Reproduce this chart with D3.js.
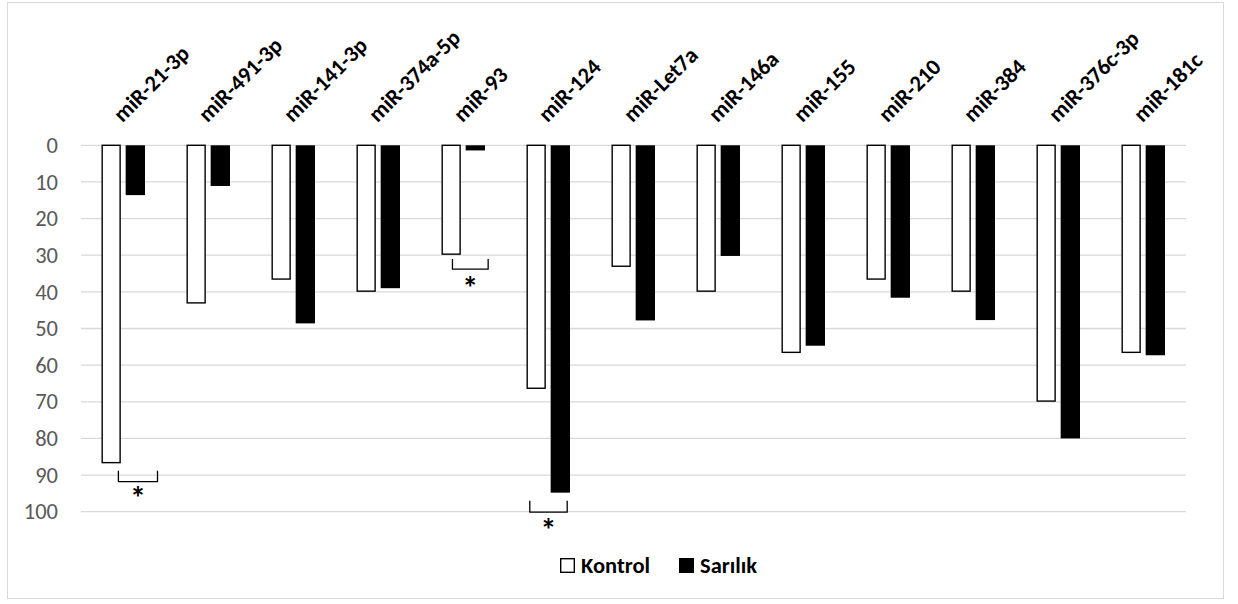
<!DOCTYPE html>
<html>
<head>
<meta charset="utf-8">
<script src="https://cdn.jsdelivr.net/npm/d3@7"></script>
<style>
  html, body { margin: 0; padding: 0; background: #fff; }
  svg { display: block; }
  text { font-family: Calibri, Carlito, Lato, "Open Sans", sans-serif; }
</style>
</head>
<body>
<svg id="chart" width="1238" height="604"></svg>
<script>
// ---- data ----
const categories = ["miR-21-3p", "miR-491-3p", "miR-141-3p", "miR-374a-5p", "miR-93", "miR-124",
                    "miR-Let7a", "miR-146a", "miR-155", "miR-210", "miR-384", "miR-376c-3p", "miR-181c"];
const seriesNames = ["Kontrol", "Sarılık"];
const kontrolValues = [86.8, 43.2, 36.7, 40.0, 29.9, 66.5, 33.2, 40.0, 56.7, 36.7, 40.0, 70.0, 56.7];
const sarilikValues = [13.6, 11.1, 48.6, 39.0, 1.4, 94.8, 47.8, 30.2, 54.7, 41.6, 47.7, 80.0, 57.3];
const yTicks = [0, 10, 20, 30, 40, 50, 60, 70, 80, 90, 100];
// significance annotations (bracket top/bottom and star position in axis units)
const sigCategories = ["miR-21-3p", "miR-93", "miR-124"];
const sigBracketTop = [88.8, 31.0, 97.0];
const sigBracketBottom = [91.8, 33.8, 100.1];
const sigStar = [95.0, 37.5, 103.6];
const sigLabel = ["*", "*", "*"];
const sigSpanStart = [0.44, 0.37, 0.28];
const sigSpanEnd = [0.90, 0.79, 0.72];

// ---- layout ----
const W = 1238, H = 604;
const plot = { left: 81, right: 1186, top: 145.3, bottom: 511.7 };
const FONT = "Calibri, Carlito, Lato, sans-serif";
const svg = d3.select("#chart");

// outer frame
svg.append("rect").attr("x", 7.5).attr("y", 2.5).attr("width", 1216).attr("height", 596)
  .attr("fill", "#fff").attr("stroke", "#d9d9d9").attr("stroke-width", 1);

const x0 = d3.scaleBand().domain(categories).range([plot.left, plot.right]).paddingInner(0).paddingOuter(0);
const x1 = d3.scaleBand().domain(seriesNames)
  .range([x0.bandwidth() * 0.241, x0.bandwidth() * 0.753]).paddingInner(0.2).paddingOuter(0);
const y = d3.scaleLinear().domain([0, 100]).range([plot.top, plot.bottom]);

// gridlines
svg.append("g").selectAll("line").data(yTicks).join("line")
  .attr("x1", plot.left).attr("x2", plot.right)
  .attr("y1", d => y(d)).attr("y2", d => y(d))
  .attr("stroke", "#d9d9d9").attr("stroke-width", 1.3);

// y axis (labels only)
const yAxis = d3.axisLeft(y).tickValues(yTicks).tickSize(0).tickPadding(0);
const gy = svg.append("g").attr("transform", `translate(58,0)`).call(yAxis);
gy.select(".domain").remove();
gy.selectAll("text").attr("fill", "#595959").style("font-size", "22.5px")
  .style("font-family", FONT);

// category axis at top (rotated labels)
const xAxis = d3.axisTop(x0).tickSize(0).tickPadding(0);
const gx = svg.append("g").attr("transform", `translate(0,${plot.top})`).call(xAxis);
gx.select(".domain").remove();
gx.selectAll(".tick text")
  .attr("text-anchor", "start")
  .attr("fill", "#000")
  .style("font-size", "22.5px").style("font-weight", "bold")
  .style("font-family", FONT)
  .attr("x", 0).attr("y", 0).attr("dy", 0)
  .attr("transform", "translate(-1,-22) rotate(-45)");

// bars
const rows = categories.map((c, i) => ({ cat: c, vals: [kontrolValues[i], sarilikValues[i]] }));
const groups = svg.append("g").selectAll("g").data(rows).join("g")
  .attr("transform", d => `translate(${x0(d.cat)},0)`);
groups.selectAll("rect").data(d => d.vals.map((v, j) => ({ s: seriesNames[j], v }))).join("rect")
  .attr("x", d => d.s === "Kontrol" ? x1(d.s) + 0.7 : x1(d.s))
  .attr("width", d => d.s === "Kontrol" ? x1.bandwidth() - 1.4 : x1.bandwidth())
  .attr("y", y(0))
  .attr("height", d => y(d.v) - y(0) - (d.s === "Kontrol" ? 0.7 : 0))
  .attr("fill", d => d.s === "Kontrol" ? "#fff" : "#000")
  .attr("stroke", d => d.s === "Kontrol" ? "#000" : "none")
  .attr("stroke-width", 1.4);

// significance brackets
const sig = sigCategories.map((c, i) => ({
  cat: c, top: sigBracketTop[i], bottom: sigBracketBottom[i], star: sigStar[i],
  label: sigLabel[i], a: sigSpanStart[i], b: sigSpanEnd[i]
}));
const sg = svg.append("g");
sg.selectAll("path").data(sig).join("path")
  .attr("d", d => {
    const xa = x0(d.cat) + x0.bandwidth() * d.a, xb = x0(d.cat) + x0.bandwidth() * d.b;
    return `M${xa},${y(d.top)}V${y(d.bottom)}H${xb}V${y(d.top)}`;
  })
  .attr("fill", "none").attr("stroke", "#000").attr("stroke-width", 1.3);
sg.selectAll("text").data(sig).join("text")
  .attr("x", d => x0(d.cat) + x0.bandwidth() * (d.a + d.b) / 2)
  .attr("y", d => y(d.star) + 16)
  .attr("text-anchor", "middle")
  .style("font-size", "32px").style("font-weight", "bold")
  .style("font-family", FONT)
  .text(d => d.label);

// legend
const legend = svg.append("g");
const legendX = [560, 679];
seriesNames.forEach((s, i) => {
  legend.append("rect").attr("x", legendX[i] + 0.7).attr("y", 558.7).attr("width", 13.6).attr("height", 13.6)
    .attr("fill", i === 0 ? "#fff" : "#000").attr("stroke", "#000").attr("stroke-width", 1.4);
  legend.append("text").attr("x", legendX[i] + 21).attr("y", 573)
    .style("font-size", "22.5px").style("font-weight", "bold").attr("fill", "#000")
    .style("font-family", FONT)
    .text(s);
});
</script>
</body>
</html>
